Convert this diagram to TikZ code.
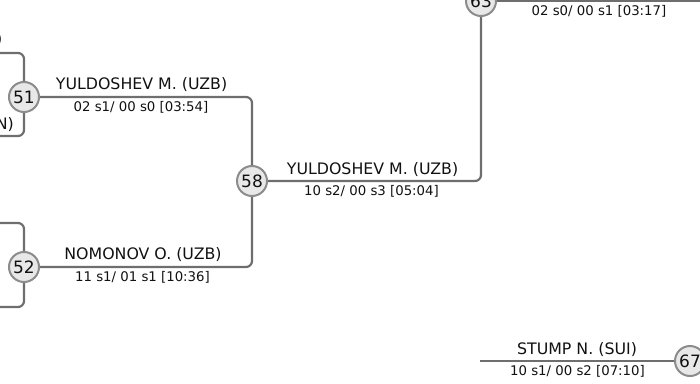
\documentclass[tikz,border=0pt]{standalone}
\usepackage{fontspec}
\setmainfont{DejaVu Sans}
\definecolor{linegray}{HTML}{6E6E6E}
\definecolor{circgray}{HTML}{8C8C8C}
\definecolor{circfill}{HTML}{E8E8E8}
\definecolor{txt}{HTML}{111111}
\tikzset{
  conn/.style={draw=linegray, line width=2.2pt, rounded corners=6pt},
  matchnode/.style={circle, draw=circgray, fill=circfill, line width=2pt, minimum size=30pt, inner sep=0pt, text=txt, font=\fontsize{17}{17}\selectfont},
  namelbl/.style={anchor=base, inner sep=0pt, text=txt, font=\fontsize{15.8}{18}\selectfont},
  sublbl/.style={anchor=base, inner sep=0pt, text=txt, font=\fontsize{13.3}{15}\selectfont}
}
\begin{document}
\begin{tikzpicture}[x=1pt, y=-1pt]
\useasboundingbox (0,0) rectangle (700,383);
% free ends
\coordinate (l51a) at (0,53);
\coordinate (l51b) at (0,136);
\coordinate (l52a) at (0,223);
\coordinate (l52b) at (0,307);
\coordinate (r63) at (702,1);
\coordinate (s67) at (480,361);
% connectors first (behind circles)
\path (24,97) coordinate (p51) (24,267) coordinate (p52) (252,181) coordinate (p58) (481,1) coordinate (p63) (690,361) coordinate (p67);
\node[matchnode] (c51) at (p51) {51};
\node[matchnode] (c52) at (p52) {52};
\node[matchnode] (c58) at (p58) {58};
\node[matchnode] (c63) at (p63) {63};
\node[matchnode] (c67) at (p67) {67};
\draw[conn] (l51a) -| (c51);
\draw[conn] (l51b) -| (c51);
\draw[conn] (l52a) -| (c52);
\draw[conn] (l52b) -| (c52);
\draw[conn] (c51) -| (c58);
\draw[conn] (c52) -| (c58);
\draw[conn] (c58) -| (c63);
\draw[conn] (c63) -- (r63);
\draw[conn] (s67) -- (c67);
% labels
\node[namelbl, anchor=base east] (n0) at (14,129.5) {N)};
\node[namelbl, anchor=base east] (n00) at (2.5,44) {)};
\node[namelbl] (n51) at (141.5,89.5) {YULDOSHEV M. (UZB)};
\node[sublbl] (s51) at (141,111) {02 s1/ 00 s0 [03:54]};
\node[namelbl] (n52) at (143,259.5) {NOMONOV O. (UZB)};
\node[sublbl] (s52) at (142.5,281) {11 s1/ 01 s1 [10:36]};
\node[namelbl] (n58) at (372.5,174) {YULDOSHEV M. (UZB)};
\node[sublbl] (s58) at (371.5,195) {10 s2/ 00 s3 [05:04]};
\node[sublbl] (s63) at (599,15) {02 s0/ 00 s1 [03:17]};
\node[namelbl] (n67) at (577,354) {STUMP N. (SUI)};
\node[sublbl] (s67l) at (577.5,375) {10 s1/ 00 s2 [07:10]};
\end{tikzpicture}
\end{document}
